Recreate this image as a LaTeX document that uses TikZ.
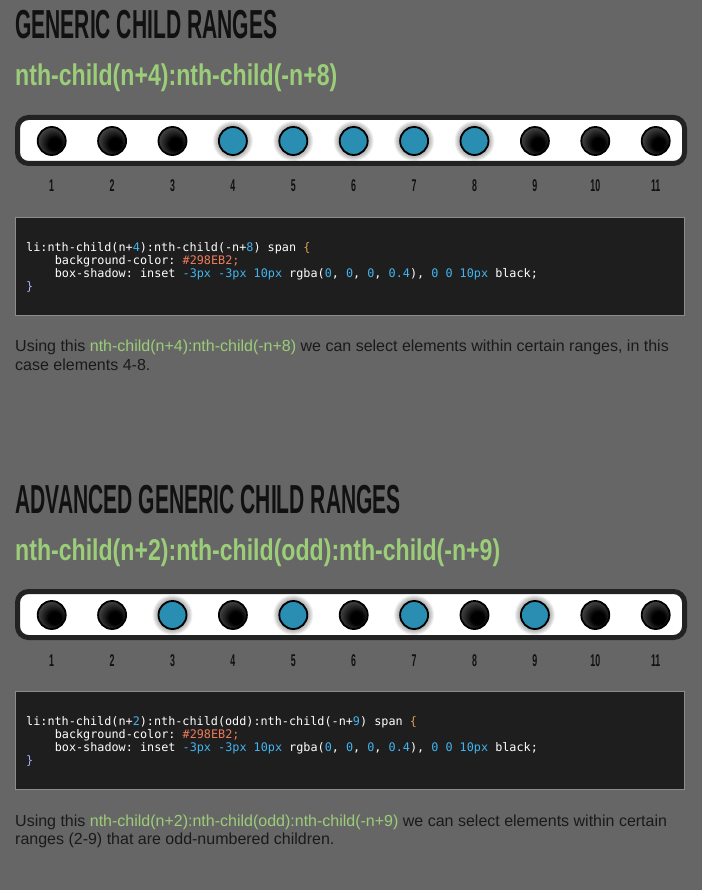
\documentclass[tikz,border=0pt]{standalone}
\usepackage{fontspec}
\setmainfont{Liberation Sans}
% Narrow headline faces (the page uses a condensed gothic)
\newfontfamily\headfont[FakeStretch=0.52]{Liberation Sans}
\newfontfamily\subfont[FakeStretch=0.77]{Liberation Sans}
\newfontfamily\codefont{DejaVu Sans Mono}

\definecolor{pagegray}{HTML}{666666}
\definecolor{ink}{HTML}{111111}
\definecolor{bodyink}{HTML}{1A1A1A}
\definecolor{lime}{HTML}{9CCD78}
\definecolor{barline}{HTML}{222222}
\definecolor{codebg}{HTML}{1E1E1E}
\definecolor{codeframe}{HTML}{8C8C8C}
\definecolor{codenum}{HTML}{42B4F0}
\definecolor{codestr}{HTML}{EE7B5C}
\definecolor{codebrace}{HTML}{D8A050}
\definecolor{codeclose}{HTML}{A8B0FF}
\definecolor{knobblue}{HTML}{298EB2}

% Shadings for the list items (circle edge sits at 25bp):
% dark ball greyer to the top left, blue one with an inset shadow bottom right
\pgfdeclareradialshading{darkknob}{\pgfpoint{7bp}{-7bp}}{color(0bp)=(black); color(11bp)=(black); color(36bp)=(black!60); color(44bp)=(black!60)}
\pgfdeclareradialshading{blueknob}{\pgfpoint{-4bp}{4bp}}{color(0bp)=(knobblue); color(23bp)=(knobblue); color(32bp)=(knobblue!72!black); color(40bp)=(knobblue!72!black)}

% Code colouring
\newcommand{\numtok}[1]{\textcolor{codenum}{#1}}
\newcommand{\strtok}[1]{\textcolor{codestr}{#1}}
\newcommand{\opentok}{\textcolor{codebrace}{\{}}
\newcommand{\closetok}{\textcolor{codeclose}{\}}}

\tikzset{
  title/.style={anchor=base west, inner sep=0pt, text=ink, font=\headfont\bfseries\fontsize{40.5}{40}\selectfont},
  subtitle/.style={anchor=base west, inner sep=0pt, text=lime, font=\subfont\bfseries\fontsize{30}{30}\selectfont},
  bar/.style={draw=barline, line width=5pt, fill=white, rounded corners=11pt},
  knob/.style={circle, draw=black, line width=1.8pt, minimum size=28pt, inner sep=0pt},
  knoboff/.style={knob, shading=darkknob},
  knobon/.style={knob, shading=blueknob},
  numlabel/.style={anchor=base, inner sep=0pt, text=ink, font=\headfont\bfseries\fontsize{17}{16}\selectfont},
  codebox/.style={draw=codeframe, line width=1pt, fill=codebg},
  codeline/.style={anchor=base west, inner sep=0pt, text=white, font=\codefont\fontsize{11.8}{13}\selectfont\frenchspacing},
  body/.style={anchor=base west, inner sep=0pt, text=bodyink, font=\fontsize{16}{18}\selectfont}
}

\begin{document}
\begin{tikzpicture}[x=1pt,y=-1pt]
  % Page background fixes the size
  \fill[pagegray] (0,0) rectangle (702,890);
  \useasboundingbox (0,0) rectangle (702,890);

  % ---------- Generic child ranges ----------
  \node[title] (ta) at (15,39) {GENERIC CHILD RANGES};
  \node[subtitle] (sa) at (15,86) {nth-child(n+4):nth-child(-n+8)};

  % The list: white bar with the items
  \draw[bar] (17.5,117.5) rectangle (684.5,163.5);
  \foreach \i in {1,2,3,9,10,11} {
    \pgfmathsetmacro{\cx}{51.7+60.4*(\i-1)}
    \node[knoboff] (ka\i) at (\cx,141) {};
  }
  % Selected items get the blue fill and a black glow
  \foreach \i in {4,...,8} {
    \pgfmathsetmacro{\cx}{51.7+60.4*(\i-1)}
    \foreach \g in {1,...,6} \fill[black,opacity=0.06] (\cx,141) circle ({(14+\g)*1pt});
    \node[knobon] (ka\i) at (\cx,141) {};
  }
  \foreach \i in {1,...,11} {
    \pgfmathsetmacro{\cx}{51.7+60.4*(\i-1)}
    \node[numlabel] (na\i) at (\cx,192) {\i};
  }

  % Code sample
  \draw[codebox] (15.5,217.5) rectangle (684.5,315.5);
  \node[codeline] (ca1) at (26,251.5) {li:nth-child(n+\numtok{4}):nth-child(-n+\numtok{8}) span \opentok};
  \node[codeline] (ca2) at (54.6,264.5) {background-color: \strtok{\#298EB2;}};
  \node[codeline] (ca3) at (54.6,277.5) {box-shadow: inset \numtok{-3px} \numtok{-3px} \numtok{10px} rgba(\numtok{0}, \numtok{0}, \numtok{0}, \numtok{0.4}), \numtok{0} \numtok{0} \numtok{10px} black;};
  \node[codeline] (ca4) at (26,290.5) {\closetok};

  % Explanation
  \node[body] (pa1) at (15,351.7) {Using this \textcolor{lime}{nth-child(n+4):nth-child(-n+8)} we can select elements within certain ranges, in this};
  \node[body] (pa2) at (15,370) {case elements 4-8.};

  % ---------- Advanced generic child ranges ----------
  \begin{scope}[shift={(0,474)}]
  \node[title] (tb) at (15,39) {ADVANCED GENERIC CHILD RANGES};
  \node[subtitle] (sb) at (15,86) {nth-child(n+2):nth-child(odd):nth-child(-n+9)};

  \draw[bar] (17.5,117.5) rectangle (684.5,163.5);
  \foreach \i in {1,2,4,6,8,10,11} {
    \pgfmathsetmacro{\cx}{51.7+60.4*(\i-1)}
    \node[knoboff] (kb\i) at (\cx,141) {};
  }
  \foreach \i in {3,5,7,9} {
    \pgfmathsetmacro{\cx}{51.7+60.4*(\i-1)}
    \foreach \g in {1,...,6} \fill[black,opacity=0.06] (\cx,141) circle ({(14+\g)*1pt});
    \node[knobon] (kb\i) at (\cx,141) {};
  }
  \foreach \i in {1,...,11} {
    \pgfmathsetmacro{\cx}{51.7+60.4*(\i-1)}
    \node[numlabel] (nb\i) at (\cx,192) {\i};
  }

  \draw[codebox] (15.5,217.5) rectangle (684.5,315.5);
  \node[codeline] (cb1) at (26,251.5) {li:nth-child(n+\numtok{2}):nth-child(odd):nth-child(-n+\numtok{9}) span \opentok};
  \node[codeline] (cb2) at (54.6,264.5) {background-color: \strtok{\#298EB2;}};
  \node[codeline] (cb3) at (54.6,277.5) {box-shadow: inset \numtok{-3px} \numtok{-3px} \numtok{10px} rgba(\numtok{0}, \numtok{0}, \numtok{0}, \numtok{0.4}), \numtok{0} \numtok{0} \numtok{10px} black;};
  \node[codeline] (cb4) at (26,290.5) {\closetok};

  \node[body] (pb1) at (15,352) {Using this \textcolor{lime}{nth-child(n+2):nth-child(odd):nth-child(-n+9)} we can select elements within certain};
  \node[body] (pb2) at (15,370.3) {ranges (2-9) that are odd-numbered children.};
  \end{scope}
\end{tikzpicture}
\end{document}
